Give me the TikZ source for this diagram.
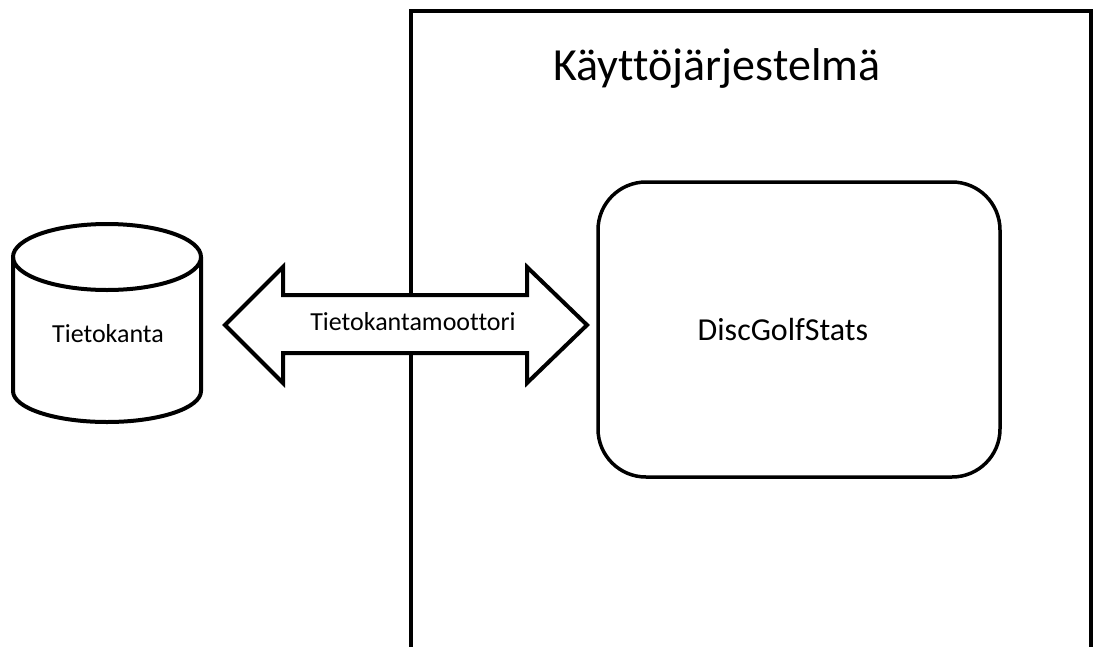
\documentclass[tikz,border=0pt]{standalone}
\usepackage{fontspec}
\setmainfont{Carlito}[Ligatures=CommonOff]
\usetikzlibrary{calc}
\begin{document}
\begin{tikzpicture}[x=1pt,y=-1pt,
  outline/.style={draw=black,line width=4pt,line join=miter},
  label26/.style={font=\fontsize{26}{30}\selectfont,inner sep=0pt},
]
\useasboundingbox (0,0) rectangle (1093,646);
\fill[white] (0,0) rectangle (1093,646);

% operating system frame, open past the lower edge
\draw[outline] (411,700) -- (411,11) -- (1091,11) -- (1091,700);
\node[font=\fontsize{46}{52}\selectfont,inner sep=0pt] (os) at (717,68) {Käyttöjärjestelmä};

% application box
\node[draw=black,line width=3.5pt,rounded corners=48pt,
      minimum width=402pt,minimum height=295pt] (app) at (799,329.5) {};
\node[font=\fontsize{32}{38}\selectfont,inner sep=0pt] (appname) at (783,330) {DiscGolfStats};

% database cylinder
\node[label26] (db) at (108,334) {Tietokanta};
\coordinate (dbc) at (107,257);
\draw[outline] ($(dbc)+(-94,0)$) arc[start angle=180,end angle=360,x radius=94,y radius=-33]
  arc[start angle=0,end angle=180,x radius=94,y radius=-33] -- cycle;
\draw[outline] ($(dbc)+(-94,0)$) -- ++(0,134)
  arc[start angle=180,end angle=360,x radius=94,y radius=-31] -- ++(0,-134);

% database engine: double arrow between database and application
\coordinate (tl) at (225,325);
\coordinate (tr) at (587,325);
\path[fill=white,draw=black,line width=4pt,line join=miter]
  (tl) -- ($(tl)+(58,-58)$) -- ($(tl)+(58,-30)$) -- ($(tr)+(-60,-30)$) -- ($(tr)+(-60,-58)$) -- (tr)
  -- ($(tr)+(-60,58)$) -- ($(tr)+(-60,28)$) -- ($(tl)+(58,28)$) -- ($(tl)+(58,58)$) -- cycle;
\node[label26] (engine) at (413,322) {Tietokantamoottori};
\end{tikzpicture}
\end{document}
